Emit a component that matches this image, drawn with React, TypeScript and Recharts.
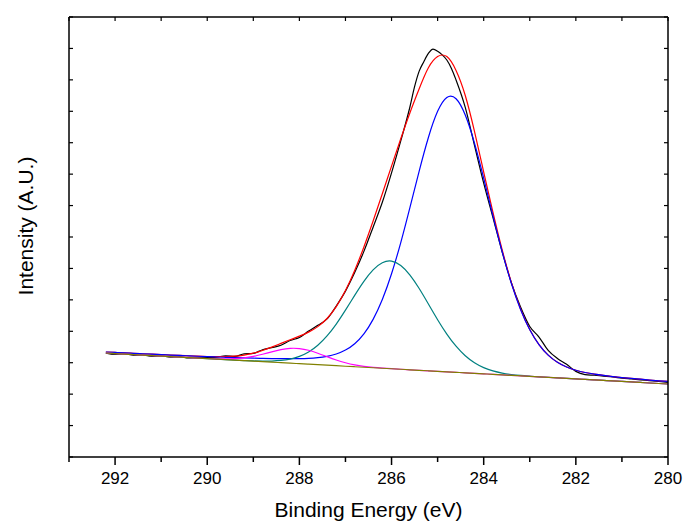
import { LineChart, Line, XAxis, YAxis, Label } from 'recharts'

// C 1s spectrum, binding energy in eV, intensity in arbitrary counts
const energy = [
  292.2, 292.0, 291.8, 291.6, 291.4, 291.2, 291.0, 290.8, 290.6, 290.4,
  290.2, 290.0, 289.8, 289.6, 289.4, 289.2, 289.0, 288.8, 288.6, 288.4,
  288.2, 288.0, 287.8, 287.6, 287.4, 287.2, 287.0, 286.8, 286.6, 286.4,
  286.2, 286.0, 285.8, 285.6, 285.4, 285.2, 285.0, 284.8, 284.6, 284.4,
  284.2, 284.0, 283.8, 283.6, 283.4, 283.2, 283.0, 282.8, 282.6, 282.4,
  282.2, 282.0, 281.8, 281.6, 281.4, 281.2, 281.0, 280.8, 280.6, 280.4,
  280.2, 280.0,
]

// fitted envelope (red)
const envelope = [
  3102, 3089, 3075, 3062, 3049, 3037, 3024, 3012, 3000, 2988,
  2978, 2969, 2963, 2967, 2980, 3012, 3067, 3147, 3247, 3356,
  3464, 3570, 3689, 3852, 4093, 4442, 4918, 5512, 6206, 6972,
  7776, 8595, 9402, 10173, 10880, 11500, 11830, 11830, 11420, 10680,
  9620, 8419, 7232, 6124, 5159, 4372, 3767, 3322, 3010, 2798,
  2657, 2562, 2496, 2448, 2410, 2377, 2348, 2322, 2298, 2274,
  2252, 2231,
]

// C-C component (blue)
const peakCC = [
  3102, 3089, 3075, 3062, 3049, 3037, 3024, 3012, 3000, 2988,
  2977, 2966, 2955, 2946, 2937, 2928, 2920, 2913, 2908, 2905,
  2904, 2907, 2916, 2936, 2974, 3042, 3159, 3348, 3640, 4067,
  4653, 5413, 6335, 7375, 8448, 9441, 10212, 10623, 10585, 10103,
  9273, 8236, 7131, 6071, 5133, 4360, 3761, 3320, 3009, 2798,
  2657, 2562, 2496, 2448, 2410, 2377, 2348, 2322, 2298, 2274,
  2252, 2231,
]

// C-O component (teal)
const peakCO = [
  3072, 3057, 3042, 3027, 3012, 2997, 2982, 2967, 2952, 2937,
  2922, 2907, 2892, 2878, 2863, 2850, 2839, 2833, 2835, 2852,
  2894, 2973, 3104, 3303, 3578, 3928, 4339, 4776, 5191, 5530,
  5740, 5787, 5658, 5375, 4978, 4520, 4057, 3632, 3273, 2991,
  2784, 2640, 2543, 2480, 2438, 2409, 2388, 2369, 2353, 2337,
  2322, 2307, 2292, 2277, 2262, 2247, 2232, 2217, 2202, 2187,
  2172, 2157,
]

// O-C=O component (magenta)
const peakOCO = [
  3072, 3057, 3042, 3027, 3012, 2997, 2982, 2967, 2952, 2937,
  2923, 2910, 2900, 2897, 2904, 2928, 2972, 3035, 3108, 3173,
  3210, 3204, 3153, 3067, 2965, 2866, 2784, 2722, 2679, 2649,
  2627, 2609, 2593, 2577, 2562, 2547, 2532, 2517, 2502, 2487,
  2472, 2457, 2442, 2427, 2412, 2397, 2382, 2367, 2352, 2337,
  2322, 2307, 2292, 2277, 2262, 2247, 2232, 2217, 2202, 2187,
  2172, 2157,
]

// background (olive)
const background = [
  3072, 3057, 3042, 3027, 3012, 2997, 2982, 2967, 2952, 2937,
  2922, 2907, 2892, 2877, 2862, 2847, 2832, 2817, 2802, 2787,
  2772, 2757, 2742, 2727, 2712, 2697, 2682, 2667, 2652, 2637,
  2622, 2607, 2592, 2577, 2562, 2547, 2532, 2517, 2502, 2487,
  2472, 2457, 2442, 2427, 2412, 2397, 2382, 2367, 2352, 2337,
  2322, 2307, 2292, 2277, 2262, 2247, 2232, 2217, 2202, 2187,
  2172, 2157,
]

// measured spectrum (black)
const rawEnergy = [
  292.2, 292.0, 291.8, 291.6, 291.4, 291.2, 291.0, 290.8, 290.6, 290.4,
  290.2, 290.0, 289.8, 289.6, 289.4, 289.2, 289.0, 288.8, 288.6, 288.4,
  288.2, 288.0, 287.8, 287.6, 287.4, 287.2, 287.0, 286.8, 286.6, 286.4,
  286.2, 286.0, 285.8, 285.6, 285.5, 285.4, 285.3, 285.2, 285.1, 285.0,
  284.9, 284.8, 284.7, 284.6, 284.4, 284.2, 284.0, 283.8, 283.6, 283.4,
  283.2, 283.0, 282.8, 282.6, 282.4, 282.2, 282.0, 281.8, 281.6, 281.4,
  281.2, 281.0, 280.8, 280.6, 280.4, 280.2, 280.0,
]
const rawCounts = [
  3065, 3030, 3050, 3005, 3020, 2975, 2990, 2950, 2965, 2925,
  2945, 2935, 2950, 2990, 2975, 3045, 3060, 3170, 3230, 3300,
  3440, 3530, 3720, 3890, 4080, 4460, 4900, 5450, 6075, 6790,
  7525, 8395, 9340, 10348, 10940, 11400, 11680, 11925, 12050, 11990,
  11880, 11730, 11480, 11140, 10330, 9205, 8090, 7080, 6065, 5150,
  4430, 3855, 3545, 3150, 2910, 2740, 2530, 2436, 2415, 2390,
  2365, 2330, 2305, 2280, 2255, 2230, 2205,
]

const xTicks = [293, 292, 291, 290, 289, 288, 287, 286, 285, 284, 283, 282, 281, 280]
const yTicks = [0, 929, 1857, 2786, 3714, 4643, 5571, 6500, 7429, 8357, 9286, 10214, 11143, 12071, 13000]

const fitData = energy.map((e, i) => ({
  energy: e,
  envelope: envelope[i],
  cc: peakCC[i],
  co: peakCO[i],
  oco: peakOCO[i],
  bg: background[i],
}))
const rawData = rawEnergy.map((e, i) => ({ energy: e, counts: rawCounts[i] }))

const FONT = '"Liberation Sans", Arial, sans-serif'
const axisLine = { stroke: '#000', strokeWidth: 1.5 }

function BottomTick({ x, y, payload }: any) {
  const major = payload.value % 2 === 0
  return (
    <g>
      <line x1={x} x2={x} y1={y} y2={y + (major ? 8 : 5)} stroke="#000" strokeWidth={1.5} />
      {major && (
        <text x={x} y={y + 27} textAnchor="middle" fontSize={17} fontFamily={FONT} fill="#000">
          {payload.value}
        </text>
      )}
    </g>
  )
}

function TopTick({ x, y }: any) {
  return <line x1={x} x2={x} y1={y} y2={y + 4} stroke="#000" strokeWidth={1.2} />
}

function LeftTick({ x, y }: any) {
  return <line x1={x} x2={x + 4} y1={y} y2={y} stroke="#000" strokeWidth={1.2} />
}

function RightTick({ x, y }: any) {
  return <line x1={x} x2={x - 4} y1={y} y2={y} stroke="#000" strokeWidth={1.2} />
}

export default function App() {
  return (
    <div style={{ position: 'absolute', left: 0, top: 0, background: '#fff' }}>
      <LineChart width={683} height={523} margin={{ top: 0, right: 0, bottom: 0, left: 0 }}>
        <XAxis
          xAxisId={0}
          type="number"
          dataKey="energy"
          domain={[280, 293]}
          reversed
          allowDataOverflow
          ticks={xTicks}
          interval={0}
          height={66}
          tickSize={0}
          tickMargin={0}
          axisLine={axisLine}
          tick={<BottomTick />}
        >
          <Label
            content={({ viewBox }: any) => (
              <text
                x={viewBox.x + viewBox.width / 2}
                y={viewBox.y + 60}
                textAnchor="middle"
                fontSize={21}
                fontFamily={FONT}
                fill="#000"
              >
                Binding Energy (eV)
              </text>
            )}
          />
        </XAxis>
        <XAxis
          xAxisId="top"
          orientation="top"
          type="number"
          dataKey="energy"
          domain={[280, 293]}
          reversed
          allowDataOverflow
          ticks={xTicks}
          interval={0}
          height={17}
          tickSize={0}
          tickMargin={0}
          axisLine={axisLine}
          tick={<TopTick />}
        />
        <YAxis
          yAxisId={0}
          type="number"
          domain={[0, 13000]}
          allowDataOverflow
          ticks={yTicks}
          interval={0}
          width={69}
          tickSize={0}
          tickMargin={0}
          axisLine={axisLine}
          tick={<LeftTick />}
        >
          <Label
            content={({ viewBox }: any) => (
              <text
                transform={`translate(${viewBox.x + 33}, ${viewBox.y + viewBox.height / 2 - 11}) rotate(-90)`}
                textAnchor="middle"
                fontSize={21}
                fontFamily={FONT}
                fill="#000"
              >
                Intensity (A.U.)
              </text>
            )}
          />
        </YAxis>
        <YAxis
          yAxisId="right"
          orientation="right"
          type="number"
          domain={[0, 13000]}
          allowDataOverflow
          ticks={yTicks}
          interval={0}
          width={15}
          tickSize={0}
          tickMargin={0}
          axisLine={axisLine}
          tick={<RightTick />}
        />

        <Line data={rawData} dataKey="counts" type="monotone" stroke="#000" strokeWidth={1.2} dot={false} activeDot={false} isAnimationActive={false} />
        <Line data={fitData} dataKey="envelope" type="natural" stroke="#ff0000" strokeWidth={1.2} dot={false} activeDot={false} isAnimationActive={false} />
        <Line data={fitData} dataKey="cc" type="natural" stroke="#0000ff" strokeWidth={1.2} dot={false} activeDot={false} isAnimationActive={false} />
        <Line data={fitData} dataKey="co" type="natural" stroke="#008080" strokeWidth={1.2} dot={false} activeDot={false} isAnimationActive={false} />
        <Line data={fitData} dataKey="oco" type="natural" stroke="#ff00ff" strokeWidth={1.2} dot={false} activeDot={false} isAnimationActive={false} />
        <Line data={fitData} dataKey="bg" type="natural" stroke="#808000" strokeWidth={1.2} dot={false} activeDot={false} isAnimationActive={false} />
      </LineChart>
    </div>
  )
}
